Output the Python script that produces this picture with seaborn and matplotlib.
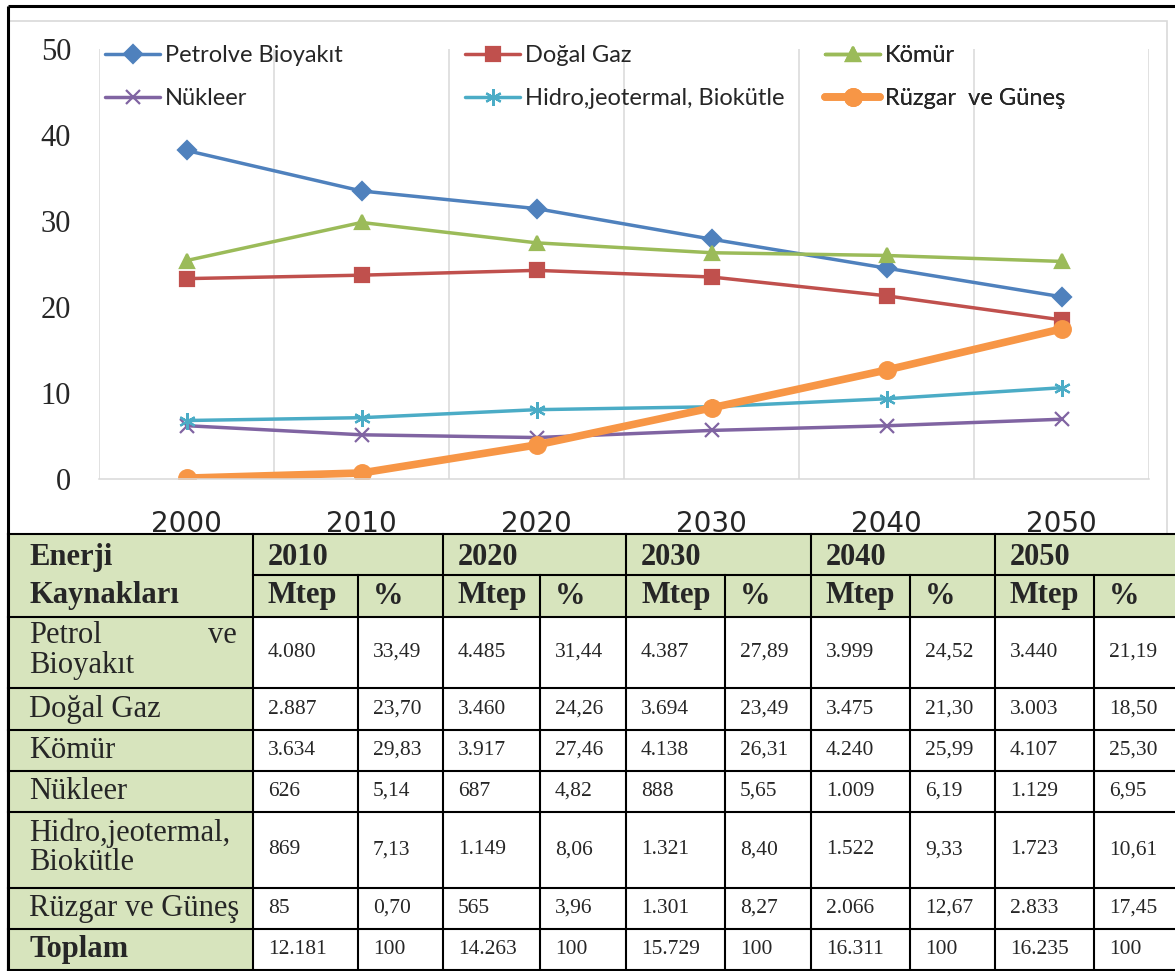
import numpy as np
import matplotlib
matplotlib.use("Agg")
import matplotlib.pyplot as plt
import seaborn as sns
from matplotlib.patches import Rectangle

# --- veri ---
years = [2000, 2010, 2020, 2030, 2040, 2050]
table_years = [2010, 2020, 2030, 2040, 2050]

legend_names = ["Petrolve Bioyakıt", "Doğal Gaz", "Kömür",
                "Nükleer", "Hidro,jeotermal, Biokütle", "Rüzgar  ve Güneş"]
row_names = [["Petrol ve", "Bioyakıt"], ["Doğal Gaz"], ["Kömür"], ["Nükleer"],
             ["Hidro,jeotermal,", "Biokütle"], ["Rüzgar ve Güneş"]]
total_name = "Toplam"

# 2000 yılı payları
share_2000 = [38.2, 23.3, 25.4, 6.2, 6.8, 0.1]

petrol_mtep = [4080, 4485, 4387, 3999, 3440]
gaz_mtep = [2887, 3460, 3694, 3475, 3003]
komur_mtep = [3634, 3917, 4138, 4240, 4107]
nukleer_mtep = [626, 687, 888, 1009, 1129]
hidro_mtep = [869, 1149, 1321, 1522, 1723]
ruzgar_mtep = [85, 565, 1301, 2066, 2833]
toplam_mtep = [12181, 14263, 15729, 16311, 16235]

petrol_pct = [33.49, 31.44, 27.89, 24.52, 21.19]
gaz_pct = [23.70, 24.26, 23.49, 21.30, 18.50]
komur_pct = [29.83, 27.46, 26.31, 25.99, 25.30]
nukleer_pct = [5.14, 4.82, 5.65, 6.19, 6.95]
hidro_pct = [7.13, 8.06, 8.40, 9.33, 10.61]
ruzgar_pct = [0.70, 3.96, 8.27, 12.67, 17.45]
toplam_pct = [100, 100, 100, 100, 100]

mtep_rows = [petrol_mtep, gaz_mtep, komur_mtep, nukleer_mtep, hidro_mtep, ruzgar_mtep]
pct_rows = [petrol_pct, gaz_pct, komur_pct, nukleer_pct, hidro_pct, ruzgar_pct]

# --- stil ---
colors = ["#4F81BD", "#C0504D", "#9BBB59", "#8064A2", "#4BACC6", "#F79646"]
markers = ["D", "s", "^", "x", (6, 2, 0), "o"]
msizes = [9, 10, 10, 10, 12, 12]
lwidths = [2.5, 2.5, 2.5, 2.5, 2.5, 5.5]
green = "#D7E4BD"
grid_gray = "#D9D9D9"

sns.set_theme(style="white")
plt.rcParams["font.family"] = ["DejaVu Sans"]

W, H = 1175, 971
fig = plt.figure(figsize=(W / 100, H / 100), dpi=100)

# arka plan ekseni (piksel koordinatları): çerçeve + tablo
bg = fig.add_axes([0, 0, 1, 1], zorder=0)
bg.set_xlim(0, W)
bg.set_ylim(H, 0)
bg.set_axis_off()

# grafik çerçevesi
bg.add_patch(Rectangle((8, 21), 1159, 513, fill=False, edgecolor=grid_gray, lw=1.2))
bg.plot([8, W], [6, 6], color="black", lw=2.2, solid_capstyle="butt")
bg.plot([8, 8], [6, H], color="black", lw=2.2, solid_capstyle="butt")

# --- çizgi grafiği ---
ax = fig.add_axes([99 / W, 1 - 479 / H, 1050 / W, 430 / H], zorder=1)
ax.patch.set_alpha(0)
for i in range(6):
    vals = [share_2000[i]] + pct_rows[i]
    sns.lineplot(x=years, y=vals, ax=ax, color=colors[i], marker=markers[i],
                 markersize=msizes[i], linewidth=lwidths[i],
                 markeredgecolor=colors[i], markeredgewidth=1.6, legend=False)

ax.set_xlim(years[0] - 5, years[-1] + 5)
ax.set_ylim(0, 50)
ax.set_yticks(range(0, 51, 10))
ax.set_xticks(years)
ax.set_xticklabels([str(y) for y in years], fontsize=20, family="DejaVu Sans")
ax.set_yticklabels([str(v) for v in range(0, 51, 10)], fontsize=22, family="Liberation Serif")
ax.set_xticks([y - 5 for y in years] + [years[-1] + 5], minor=True)
ax.grid(False)
ax.grid(which="minor", axis="x", color=grid_gray, lw=1.1)
ax.tick_params(which="both", length=0)
ax.tick_params(axis="y", pad=20)
ax.tick_params(axis="x", pad=22)
for s in ["top", "left", "right"]:
    ax.spines[s].set_visible(False)
ax.spines["bottom"].set_color(grid_gray)
ax.spines["bottom"].set_linewidth(1.1)
ax.set_xlabel("")
ax.set_ylabel("")

handles = ax.lines[:6]
leg_x = [105, 465, 825]
for k in range(3):
    leg = ax.legend([handles[k], handles[k + 3]], [legend_names[k], legend_names[k + 3]],
                    loc="upper left", bbox_to_anchor=(leg_x[k] / W, 1 - 45 / H),
                    bbox_transform=fig.transFigure, frameon=False,
                    prop={"family": "Lato", "size": 17}, handlelength=2.35,
                    handletextpad=0.2, labelspacing=0.93, borderpad=0, borderaxespad=0)
    ax.add_artist(leg)

# --- tablo ---
col_w = [245, 105, 85, 97, 86, 99, 86, 99, 85, 99, 81]
row_h = [41, 42, 71, 42, 41, 41, 76, 41, 41]
col_x = np.concatenate([[8], 8 + np.cumsum(col_w)])
row_y = np.concatenate([[534], 534 + np.cumsum(row_h)])
row_c = (row_y[:-1] + row_y[1:]) / 2

bg.add_patch(Rectangle((col_x[0], row_y[0]), col_x[-1] - col_x[0], row_y[2] - row_y[0],
                       facecolor=green, edgecolor="none"))
bg.add_patch(Rectangle((col_x[0], row_y[2]), col_w[0], row_y[-1] - row_y[2],
                       facecolor=green, edgecolor="none"))

tl = 1.5
for j, y in enumerate(row_y):
    xs = col_x[1] if j == 1 else col_x[0]
    bg.plot([xs, col_x[-1]], [y, y], color="black", lw=tl, solid_capstyle="projecting")
for c, x in enumerate(col_x[:-1]):
    ys = row_y[1] if (c >= 2 and c % 2 == 0) else row_y[0]
    bg.plot([x, x], [ys, row_y[-1]], color="black", lw=tl, solid_capstyle="projecting")

serif = "Liberation Serif"
hdr = dict(family=serif, size=22, weight="bold", va="center", ha="left")
num = dict(family=serif, size=15.5, va="center", ha="left")
lab = dict(family=serif, size=22, va="center", ha="left")
pad = 15

bg.text(29, row_c[0] + 3, "Enerji", **hdr)
bg.text(29, row_c[1], "Kaynakları", **hdr)
for k, yr in enumerate(table_years):
    bg.text(col_x[1 + 2 * k] + pad, row_c[0] + 3, str(yr), **hdr)
    bg.text(col_x[1 + 2 * k] + pad, row_c[1], "Mtep", **hdr)
    bg.text(col_x[2 + 2 * k] + pad, row_c[1], "%", **hdr)


def fmt_mtep(v):
    return f"{v:,}".replace(",", ".")


def fmt_pct(v):
    if float(v).is_integer() and v >= 100:
        return str(int(v))
    return f"{v:.2f}".replace(".", ",")


for r in range(6):
    yc = row_c[2 + r]
    lines = row_names[r]
    gap = 30
    for j, line in enumerate(lines):
        yy = yc + (j - (len(lines) - 1) / 2) * gap - (2 if len(lines) > 1 else 0)
        words = line.split()
        if len(lines) > 1 and len(words) > 1:
            bg.text(29, yy, words[0], **lab)
            bg.text(col_x[1] - 16, yy, words[-1], **{**lab, "ha": "right"})
        else:
            bg.text(29, yy, line, **lab)
    for k in range(5):
        bg.text(col_x[1 + 2 * k] + pad, yc, fmt_mtep(mtep_rows[r][k]), **num)
        bg.text(col_x[2 + 2 * k] + pad, yc, fmt_pct(pct_rows[r][k]), **num)

yc = row_c[8]
bg.text(29, yc, total_name, **hdr)
for k in range(5):
    bg.text(col_x[1 + 2 * k] + pad, yc, fmt_mtep(toplam_mtep[k]), **num)
    bg.text(col_x[2 + 2 * k] + pad, yc, fmt_pct(toplam_pct[k]), **num)

fig.savefig("out.png", dpi=100)
